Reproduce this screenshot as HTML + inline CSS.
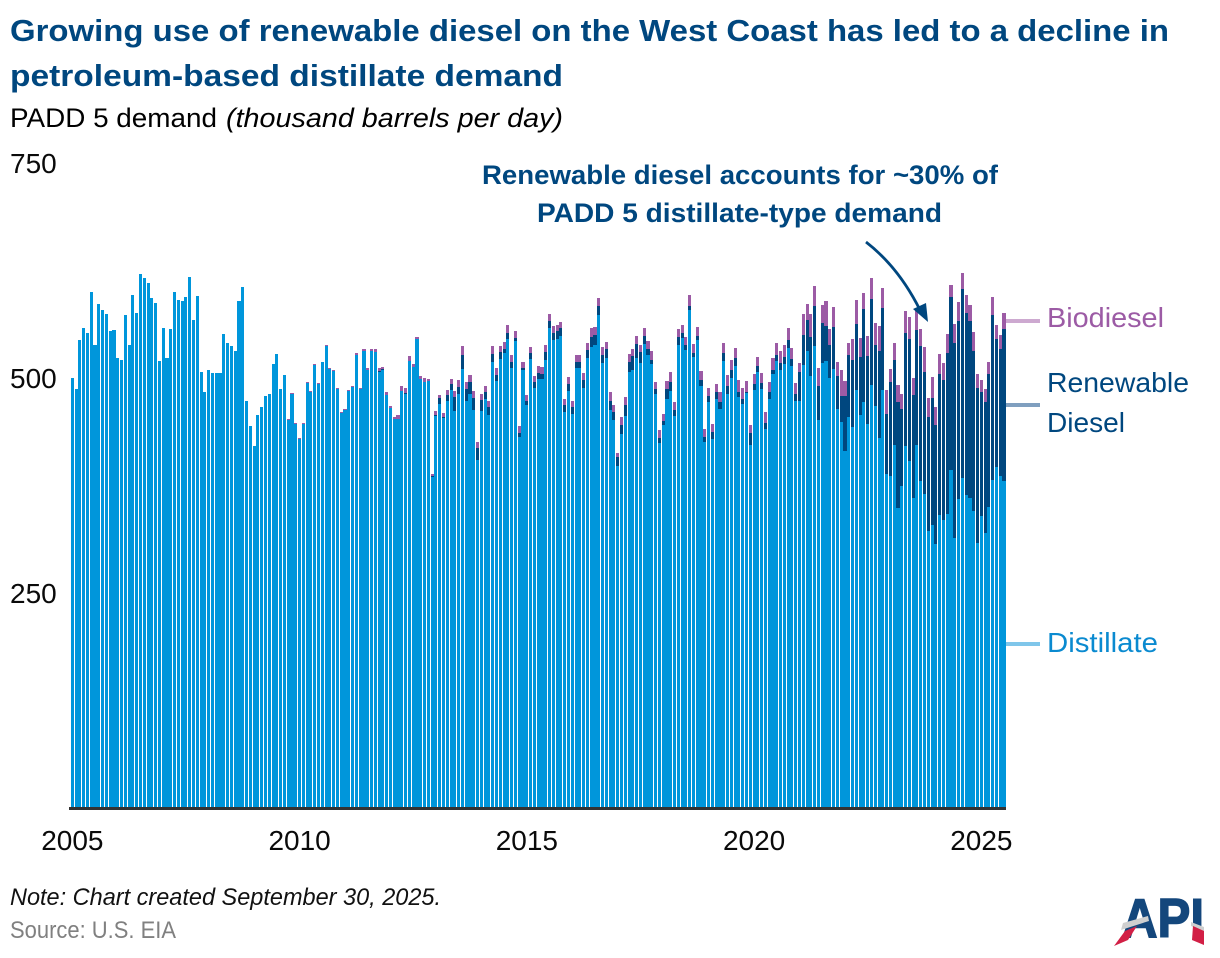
<!DOCTYPE html>
<html lang="en">
<head>
<meta charset="utf-8">
<title>Growing use of renewable diesel on the West Coast</title>
<style>
html,body{margin:0;padding:0;background:#fff;}
svg{display:block;}
text{font-family:"Liberation Sans",sans-serif;}
.t{font-weight:bold;font-size:31px;fill:#00477F;}
.b{font-size:27px;fill:#000;}
.tick{font-size:28px;fill:#0a0a0a;}
.leg{font-size:28px;}
.ann{font-weight:bold;font-size:27px;fill:#00477F;}
</style>
</head>
<body>
<svg id="chart" width="1220" height="958" viewBox="0 0 1220 958" xmlns="http://www.w3.org/2000/svg">
  <text class="t" x="10" y="41" textLength="1159" lengthAdjust="spacingAndGlyphs">Growing use of renewable diesel on the West Coast has led to a decline in</text>
  <text class="t" x="10" y="86" textLength="553" lengthAdjust="spacingAndGlyphs">petroleum-based distillate demand</text>
  <text class="b" x="10" y="127" textLength="207" lengthAdjust="spacingAndGlyphs">PADD 5 demand</text>
  <text class="b" x="226" y="127" font-style="italic" textLength="337" lengthAdjust="spacingAndGlyphs">(thousand barrels per day)</text>
  <g id="bars" shape-rendering="crispEdges"></g>
  <g id="yticks"></g>
  <g id="xticks"></g>
  <rect x="69" y="807" width="937" height="3" fill="#333333"/>

  <text class="ann" x="482" y="184" textLength="516" lengthAdjust="spacingAndGlyphs">Renewable diesel accounts for ~30% of</text>
  <text class="ann" x="537" y="222" textLength="405" lengthAdjust="spacingAndGlyphs">PADD 5 distillate-type demand</text>
  <path d="M866 242 C888 259 906 282 920 310" fill="none" stroke="#00477F" stroke-width="2.8"/>
  <polygon points="913,309 926,303 928,322" fill="#00477F"/>

  <rect x="1006" y="319" width="34" height="4" fill="#CDA9D0"/>
  <text class="leg" x="1047" y="327" fill="#9C5BA5" textLength="117" lengthAdjust="spacingAndGlyphs">Biodiesel</text>
  <rect x="1006" y="403" width="34" height="4" fill="#7F9FBF"/>
  <text class="leg" x="1047" y="392" fill="#00477F" textLength="142" lengthAdjust="spacingAndGlyphs">Renewable</text>
  <text class="leg" x="1047" y="432" fill="#00477F" textLength="78" lengthAdjust="spacingAndGlyphs">Diesel</text>
  <rect x="1006" y="642" width="34" height="4" fill="#7FC6EA"/>
  <text class="leg" x="1047" y="652" fill="#0A8AD0" textLength="111" lengthAdjust="spacingAndGlyphs">Distillate</text>

  <text x="10" y="905" font-size="24" font-style="italic" fill="#111" textLength="431" lengthAdjust="spacingAndGlyphs">Note: Chart created September 30, 2025.</text>
  <text x="10" y="938" font-size="24" fill="#808080" textLength="166" lengthAdjust="spacingAndGlyphs">Source: U.S. EIA</text>

  <g>
    <text x="1122" y="937" font-size="55" font-weight="bold" fill="#14477C" stroke="#14477C" stroke-width="1.5" textLength="82" lengthAdjust="spacingAndGlyphs">API</text>
    <polygon points="1121,930 1123,923 1148,916 1149,921" fill="#CFCFCF"/>
    <polygon points="1191,922 1204,927 1204,932 1191,926" fill="#CFCFCF"/>
    <polygon points="1114,946 1125,931 1137,926 1128,940" fill="#D21F45"/>
    <polygon points="1193,926 1204,931 1204,945 1192,940" fill="#D21F45"/>
  </g>
</svg>
<script>
const distillate = [
499,486,543,557,551,599,537,585,578,573,
554,555,522,520,572,537,595,575,620,615,
609,592,586,519,557,522,556,599,590,588,
593,616,566,594,506,483,508,505,505,505,
550,540,536,530,588,605,472,443,420,456,
465,478,480,515,527,486,502,450,480,445,
428,445,493,483,514,492,517,536,509,507,
486,458,462,484,488,526,486,530,508,530,
529,506,508,479,464,451,451,484,480,519,
512,544,498,494,495,384,455,469,452,472,
485,461,480,509,472,480,462,404,461,474,
456,517,495,521,528,544,510,542,430,508,
467,521,487,498,498,520,557,543,544,548,
459,484,457,510,510,487,522,535,537,572,
516,522,462,450,397,434,455,506,508,522,
516,538,526,515,480,423,444,474,484,455,
537,545,531,578,523,543,490,424,471,428,
474,463,519,480,499,513,477,469,481,421,
485,506,486,440,474,503,519,508,515,534,
513,472,472,514,530,501,536,450,516,519,
499,509,463,448,414,453,442,485,456,471,
445,491,466,429,485,387,385,421,348,373,
420,402,359,421,379,364,321,328,306,340,
334,341,392,313,358,383,363,359,344,307,
338,319,349,380,395,385,379];
const renewable = [
0,0,0,0,0,0,0,0,0,0,
0,0,0,0,0,0,0,0,0,0,
0,0,0,0,0,0,0,0,0,0,
0,0,0,0,0,0,0,0,0,0,
0,0,0,0,0,0,0,0,0,0,
0,0,0,0,0,0,0,0,0,0,
0,0,0,0,0,0,0,0,0,0,
0,0,0,0,0,0,0,0,0,0,
0,1,1,0,0,0,0,0,1,0,
0,0,0,0,0,1,1,7,1,7,
7,16,8,17,14,14,14,13,12,9,
9,10,7,8,5,7,7,3,5,2,
5,7,7,7,6,9,8,8,9,9,
9,8,8,8,8,9,9,12,12,10,
10,10,10,9,10,10,13,12,16,16,
13,10,7,5,6,6,5,12,10,7,
9,6,6,5,5,5,7,6,7,8,
8,8,9,10,9,9,6,5,2,14,
7,7,7,7,8,5,7,8,8,9,
8,8,34,35,36,45,47,40,47,40,
38,49,38,30,64,73,78,77,67,108,
80,100,71,101,95,70,109,99,123,90,
131,142,120,134,157,142,133,148,138,163,
162,187,201,226,207,219,212,206,186,180,
145,152,155,192,149,148,177];
const biodiesel = [
0,0,0,0,0,0,0,0,0,0,
0,0,0,0,0,0,0,0,0,0,
0,0,0,0,0,0,0,0,0,0,
0,0,0,0,0,0,0,0,0,0,
0,0,0,0,0,0,0,0,0,0,
0,0,0,0,0,0,0,1,1,1,
1,1,1,1,1,1,1,1,1,1,
1,1,1,1,1,2,1,2,3,3,
3,3,3,3,2,3,5,5,6,6,
3,3,3,5,3,2,5,3,5,6,
6,7,9,10,8,8,8,8,7,7,
7,9,8,7,8,9,9,9,8,7,
7,7,7,8,8,8,8,8,7,7,
7,8,7,8,8,9,9,10,9,10,
9,9,10,9,5,9,9,9,9,10,
8,9,9,10,8,9,8,9,12,9,
10,9,10,12,10,10,10,10,9,9,
10,12,12,12,12,12,13,13,12,9,
12,10,12,12,12,14,13,14,14,14,
13,13,10,24,19,27,23,21,21,29,
19,23,17,30,17,14,24,28,22,19,
23,24,26,29,23,28,15,19,20,17,
26,26,20,23,20,29,22,24,21,24,
20,22,14,23,22,19,20,19,22,17,
14,15,13,21,16,16,19];
const yTickLabels = [250, 500, 750];
const xTickYears = [2005, 2010, 2015, 2020, 2025];
const firstYear = 2005;

const SVGNS = 'http://www.w3.org/2000/svg';
const xScale = function (monthIndex) { return 70.77 + monthIndex * 3.7875; };
const yScale = function (value) { return 807 - value * 0.86; };
const barWidth = 3.1;

function makeRect(group, i, low, high, fill) {
  const r = document.createElementNS(SVGNS, 'rect');
  const left = Math.round(xScale(i));
  const right = Math.round(xScale(i) + barWidth);
  const top = Math.round(yScale(high));
  const bottom = Math.round(yScale(low));
  r.setAttribute('x', left);
  r.setAttribute('width', right - left);
  r.setAttribute('y', top);
  r.setAttribute('height', bottom - top);
  r.setAttribute('fill', fill);
  group.appendChild(r);
  return r;
}

const barsGroup = document.getElementById('bars');
for (let i = 0; i < distillate.length; i++) {
  const d = distillate[i];
  const rd = renewable[i];
  const bio = biodiesel[i];
  const distBar = makeRect(barsGroup, i, 0, d, '#0096DB');
  
  
  if (rd > 0) {
    const rdBar = makeRect(barsGroup, i, d, d + rd, '#00477F');
    
    
  }
  if (bio > 0) {
    const bioBar = makeRect(barsGroup, i, d + rd, d + rd + bio, '#9C5BA5');
    
    
  }
}

const yGroup = document.getElementById('yticks');
yTickLabels.forEach(function (v) {
  const t = document.createElementNS(SVGNS, 'text');
  t.setAttribute('class', 'tick');
  t.setAttribute('x', 10);
  t.setAttribute('y', yScale(v) + 11);
  t.textContent = String(v);
  
  
  yGroup.appendChild(t);
});

const xGroup = document.getElementById('xticks');
xTickYears.forEach(function (year) {
  const t = document.createElementNS(SVGNS, 'text');
  t.setAttribute('class', 'tick');
  t.setAttribute('x', xScale((year - firstYear) * 12) + 1.6);
  t.setAttribute('y', 850);
  t.setAttribute('text-anchor', 'middle');
  t.textContent = String(year);
  
  
  xGroup.appendChild(t);
});
</script>
</body>
</html>
